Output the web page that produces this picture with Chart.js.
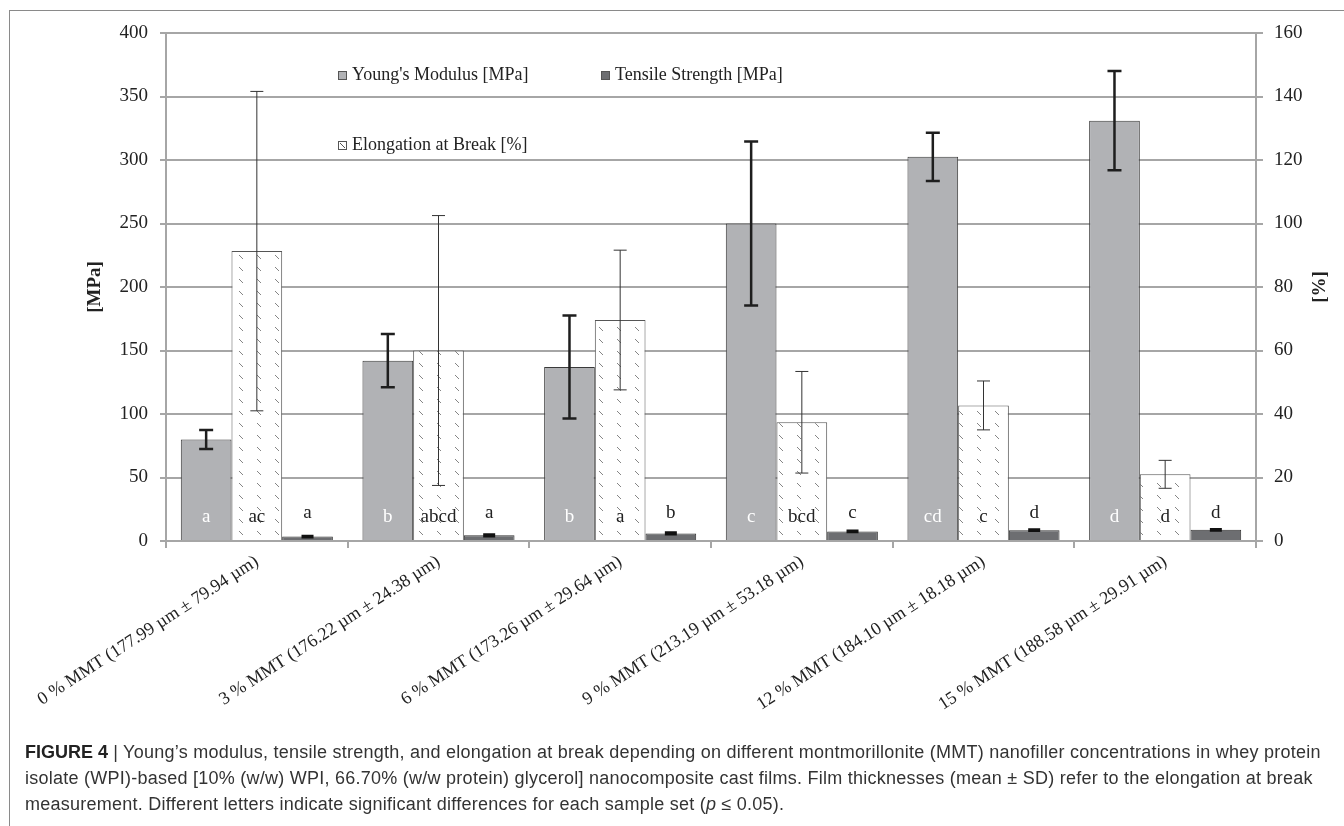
<!DOCTYPE html>
<html>
<head>
<meta charset="utf-8">
<script src="https://cdn.jsdelivr.net/npm/chart.js@4.4.1/dist/chart.umd.min.js"></script>
<style>
  html, body { margin: 0; padding: 0; background: #fff; }
  #wrap { position: relative; width: 1344px; height: 826px; overflow: hidden; }
  #frame { position: absolute; left: 9px; top: 10px; width: 1400px; height: 900px;
           border-left: 1.5px solid #8a8a8a; border-top: 1.5px solid #8a8a8a; }
  #chart { position: absolute; left: 0; top: 0; }
  #caption { position: absolute; left: 25px; top: 739px; white-space: nowrap;
             font-family: "Liberation Sans", Arial, sans-serif;
             font-size: 18px; letter-spacing: 0.25px; line-height: 26px; color: #333; }
  #caption b { color: #222; letter-spacing: 0; }
</style>
</head>
<body>
<div id="wrap">
  <div id="frame"></div>
  <canvas id="chart" width="1344" height="740"></canvas>
  <div id="caption"><b>FIGURE 4</b> | Young’s modulus, tensile strength, and elongation at break depending on different montmorillonite (MMT) nanofiller concentrations in whey protein<br>isolate (WPI)-based [10% (w/w) WPI, 66.70% (w/w protein) glycerol] nanocomposite cast films. Film thicknesses (mean ± SD) refer to the elongation at break<br>measurement. Different letters indicate significant differences for each sample set (<i>p</i> ≤ 0.05).</div>
</div>
<script>
const categories = [
  "0 % MMT (177.99 µm ± 79.94 µm)",
  "3 % MMT (176.22 µm ± 24.38 µm)",
  "6 % MMT (173.26 µm ± 29.64 µm)",
  "9 % MMT (213.19 µm ± 53.18 µm)",
  "12 % MMT (184.10 µm ± 18.18 µm)",
  "15 % MMT (188.58 µm ± 29.91 µm)"
];

// Young's modulus [MPa] (left axis)
const youngsModulus = [80, 142, 137, 250, 302.5, 331];
const youngsSD = [7.5, 21, 40.5, 64.5, 19, 39];
const youngsLetters = ["a", "b", "b", "c", "cd", "d"];

// Elongation at break [%] (right axis)
const elongation = [91.3, 60, 69.6, 37.4, 42.7, 21];
const elongationSD = [50.3, 42.5, 22, 16, 7.7, 4.4];
const elongationLetters = ["ac", "abcd", "a", "bcd", "c", "d"];

// Tensile strength [MPa] (left axis)
const tensileStrength = [3.5, 4.5, 6, 7.5, 8.5, 8.8];
const tensileSD = [0.5, 0.7, 0.6, 0.5, 0.5, 0.5];
const tensileLetters = ["a", "a", "b", "c", "d", "d"];

const SERIF = "'Liberation Serif', 'Times New Roman', serif";
const GRID = "#a6a6a6";
const TEXT = "#222";

function makeHatch() {
  const c = document.createElement("canvas");
  c.width = 18; c.height = 12;
  const g = c.getContext("2d");
  g.fillStyle = "#fff";
  g.fillRect(0, 0, 18, 12);
  g.strokeStyle = "#858585";
  g.lineWidth = 1;
  g.beginPath();
  g.moveTo(5, 3);
  g.lineTo(9, 7);
  g.stroke();
  return g.createPattern(c, "repeat");
}

const errorBars = {
  id: "errorBars",
  afterDatasetsDraw(chart) {
    const ctx = chart.ctx;
    chart.data.datasets.forEach((ds, i) => {
      const meta = chart.getDatasetMeta(i);
      const scale = chart.scales[meta.yAxisID];
      ctx.save();
      ctx.strokeStyle = ds.errorColor;
      ctx.lineWidth = ds.errorWidth;
      meta.data.forEach((bar, j) => {
        const v = ds.data[j], sd = ds.errors[j];
        const top = scale.getPixelForValue(v + sd);
        const bot = scale.getPixelForValue(v - sd);
        const half = ds.capWidth / 2;
        ctx.beginPath();
        ctx.moveTo(bar.x, top); ctx.lineTo(bar.x, bot);
        ctx.moveTo(bar.x - half, top); ctx.lineTo(bar.x + half, top);
        ctx.moveTo(bar.x - half, bot); ctx.lineTo(bar.x + half, bot);
        ctx.stroke();
      });
      ctx.restore();
    });
  }
};

const letterLabels = {
  id: "letterLabels",
  afterDatasetsDraw(chart) {
    const ctx = chart.ctx;
    const base = chart.scales.y.getPixelForValue(0);
    chart.data.datasets.forEach((ds, i) => {
      const meta = chart.getDatasetMeta(i);
      ctx.save();
      ctx.font = "19px " + SERIF;
      ctx.fillStyle = ds.letterColor;
      ctx.textAlign = "center";
      ctx.textBaseline = "middle";
      meta.data.forEach((bar, j) => {
        ctx.fillText(ds.letters[j], bar.x, base - ds.letterLift);
      });
      ctx.restore();
    });
  }
};

const boxLegend = {
  id: "boxLegend",
  afterDraw(chart, args, opts) {
    const ctx = chart.ctx;
    ctx.save();
    ctx.font = "18px " + SERIF;
    ctx.textBaseline = "middle";
    opts.items.forEach(it => {
      const ds = chart.data.datasets[it.dataset];
      ctx.fillStyle = ds.legendFill;
      ctx.fillRect(it.x, it.y - 4, 8, 8);
      ctx.strokeStyle = "#555";
      ctx.lineWidth = 1;
      ctx.strokeRect(it.x + 0.5, it.y - 3.5, 8, 8);
      if (it.slash) {
        ctx.beginPath();
        ctx.moveTo(it.x + 2, it.y - 2);
        ctx.lineTo(it.x + 7, it.y + 3);
        ctx.stroke();
      }
      ctx.fillStyle = TEXT;
      ctx.fillText(ds.label, it.x + 14, it.y);
    });
    ctx.restore();
  }
};

const rightTitle = {
  id: "rightTitle",
  afterDraw(chart, args, opts) {
    const s = chart.scales.y1;
    const ctx = chart.ctx;
    ctx.save();
    ctx.translate(s.right - opts.inset, (s.top + s.bottom) / 2);
    ctx.rotate(-Math.PI / 2);
    ctx.font = "bold 19px " + SERIF;
    ctx.fillStyle = TEXT;
    ctx.textAlign = "center";
    ctx.textBaseline = "middle";
    ctx.fillText(opts.text, 0, 0);
    ctx.restore();
  }
};

function main() {
  const hatch = makeHatch();
  const ctx = document.getElementById("chart");

  new Chart(ctx, {
    type: "bar",
    data: {
      labels: categories,
      datasets: [
        {
          label: "Young's Modulus [MPa]",
          data: youngsModulus,
          yAxisID: "y",
          backgroundColor: "#b1b2b5",
          legendFill: "#b1b2b5",
          borderColor: "#3a3a3a",
          borderWidth: 1,
          errors: youngsSD, errorColor: "#1e1e1e", errorWidth: 2.5, capWidth: 14,
          letters: youngsLetters, letterColor: "#fff", letterLift: 24
        },
        {
          label: "Elongation at Break [%]",
          data: elongation,
          yAxisID: "y1",
          backgroundColor: hatch,
          legendFill: "#fff",
          borderColor: "#555",
          borderWidth: 1,
          errors: elongationSD, errorColor: "#333", errorWidth: 1, capWidth: 13,
          letters: elongationLetters, letterColor: TEXT, letterLift: 24
        },
        {
          label: "Tensile Strength [MPa]",
          data: tensileStrength,
          yAxisID: "y",
          backgroundColor: "#6d6e71",
          legendFill: "#6d6e71",
          borderColor: "#333",
          borderWidth: 1,
          errors: tensileSD, errorColor: "#111", errorWidth: 2.5, capWidth: 12,
          letters: tensileLetters, letterColor: TEXT, letterLift: 28
        }
      ]
    },
    options: {
      responsive: false,
      animation: false,
      layout: { padding: { top: 33, left: 0, right: 0, bottom: 0 } },
      datasets: { bar: { categoryPercentage: 0.837, barPercentage: 1 } },
      plugins: {
        legend: { display: false },
        tooltip: { enabled: false },
        boxLegend: {
          items: [
            { dataset: 0, x: 338, y: 75 },
            { dataset: 2, x: 601, y: 75 },
            { dataset: 1, x: 338, y: 145, slash: true }
          ]
        },
        rightTitle: { text: "[%]", inset: 24 }
      },
      scales: {
        x: {
          grid: { drawOnChartArea: false, tickLength: 7, color: GRID, lineWidth: 2 },
          border: { color: GRID, width: 2 },
          ticks: {
            autoSkip: false, minRotation: 33, maxRotation: 33, padding: 3,
            color: TEXT, font: { family: SERIF, size: 18 }
          },
          afterFit: s => { s.height = 199; }
        },
        y: {
          position: "left",
          min: 0, max: 400,
          grid: { color: GRID, lineWidth: 2, tickLength: 6 },
          border: { color: GRID, width: 2 },
          ticks: { stepSize: 50, padding: 12, color: TEXT, font: { family: SERIF, size: 19 } },
          title: {
            display: true, text: "[MPa]", color: TEXT,
            font: { family: SERIF, size: 19, weight: "bold" },
            padding: { top: 84, bottom: 0 }
          },
          afterFit: s => { s.width = 166; }
        },
        y1: {
          position: "right",
          min: 0, max: 160,
          grid: { drawOnChartArea: false, color: GRID, lineWidth: 2, tickLength: 7 },
          border: { color: GRID, width: 2 },
          ticks: { stepSize: 20, padding: 11, color: TEXT, font: { family: SERIF, size: 19 } },
          afterFit: s => { s.width = 88; }
        }
      }
    },
    plugins: [errorBars, letterLabels, boxLegend, rightTitle]
  });
}

main();
</script>
</body>
</html>
